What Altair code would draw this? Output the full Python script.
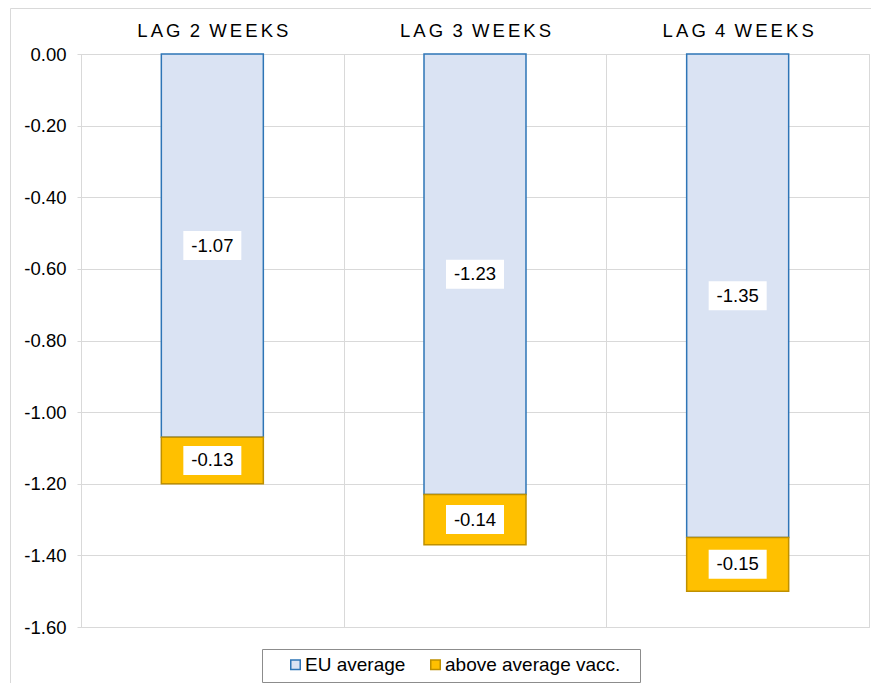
import altair as alt
import pandas as pd

# ---- data ----
lags = ["LAG 2 WEEKS", "LAG 3 WEEKS", "LAG 4 WEEKS"]
series = ["EU average", "above average vacc."]
eu_avg = [-1.07, -1.23, -1.35]
above_avg = [-0.13, -0.14, -0.15]
y_ticks = [0.0, -0.2, -0.4, -0.6, -0.8, -1.0, -1.2, -1.4, -1.6]

fills = ["#dae3f3", "#ffc000"]
strokes = ["#2e75b6", "#bf9000"]

rows = []
for i, lag in enumerate(lags):
    for k, vals in enumerate([eu_avg, above_avg]):
        rows.append({"lag": lag, "series": series[k], "order": k,
                     "value": vals[i], "label": f"{vals[i]:.2f}"})
df = pd.DataFrame(rows)

FONT = "Liberation Sans"
GRID = "#d9d9d9"


def spaced(s):
    # letter-spaced rendering of the category names
    return "\u2002".join("\u2006".join(word) for word in s.split(" "))


label_expr = " : ".join(
    [f"datum.label == '{lag}' ? '{spaced(lag)}'" for lag in lags] + ["datum.label"]
)

x_axis = alt.Axis(orient="top", labelAngle=0, ticks=False, tickSize=0, domain=False,
                  grid=True, tickBand="extent", gridColor=GRID, labelFont=FONT,
                  labelFontSize=18.5, labelColor="#000000", labelPadding=14,
                  labelLimit=0, labelExpr=label_expr)
x_scale = alt.Scale(domain=lags, paddingInner=0, paddingOuter=0)

y_axis = alt.Axis(values=y_ticks, domain=False, grid=True, gridColor=GRID,
                  ticks=True, tickSize=4, tickColor=GRID, labelFont=FONT,
                  labelFontSize=18.5, labelColor="#000000", labelPadding=11,
                  labelExpr="replace(format(datum.value, '.2f'), '\u2212', '-')")
y_scale = alt.Scale(domain=[-1.6, 0], nice=False, zero=False)


def X():
    return alt.X("lag:N", sort=lags, title=None, scale=x_scale, axis=x_axis)


def Y(field):
    return alt.Y(field, title=None, scale=y_scale, axis=y_axis)


legend = alt.Legend(title=None, orient="none", legendX=205, legendY=601,
                    direction="horizontal", symbolType="square", symbolSize=90,
                    symbolStrokeWidth=1.5, labelFont=FONT, labelFontSize=19,
                    labelColor="#000000", columnPadding=20, labelOffset=0,
                    labelLimit=0, padding=0)

base = alt.Chart(df).transform_stack(
    stack="value", groupby=["lag"], as_=["v0", "v1"],
    sort=[alt.SortField("order", order="ascending")]
).transform_calculate(mid="(datum.v0 + datum.v1) / 2")

bars = base.mark_bar(width=102, strokeWidth=1.5).encode(
    x=X(), y=Y("v0:Q"), y2="v1:Q",
    fill=alt.Fill("series:N", sort=series, scale=alt.Scale(domain=series, range=fills), legend=legend),
    stroke=alt.Stroke("series:N", sort=series, scale=alt.Scale(domain=series, range=strokes), legend=legend),
    order=alt.Order("order:Q"),
)

boxes = base.mark_point(shape="M-1,-0.5L1,-0.5L1,0.5L-1,0.5Z", size=3364, filled=True,
                        fill="#ffffff", opacity=1, strokeWidth=0).encode(
    x=X(), y=Y("mid:Q"))

labels = base.mark_text(font=FONT, fontSize=18.5, color="#000000", align="center",
                        baseline="middle").encode(
    x=X(), y=Y("mid:Q"), text="label:N")

one = alt.Data(values=[{"k": 1}])
legend_frame = alt.Chart(one).mark_rect(fillOpacity=0, stroke="#8c8c8c", strokeWidth=1).encode(
    x=alt.value(181.5), x2=alt.value(559.5), y=alt.value(595.5), y2=alt.value(628.5))
left_border = alt.Chart(one).mark_rule(color=GRID, strokeWidth=1).encode(
    x=alt.value(-70.5), y=alt.value(-45.5), y2=alt.value(629))
top_border = alt.Chart(one).mark_rule(color=GRID, strokeWidth=1).encode(
    x=alt.value(-70.5), x2=alt.value(790), y=alt.value(-45.5))

chart = alt.layer(bars, boxes, labels, legend_frame, left_border, top_border).properties(
    width=788, height=573,
    autosize=alt.AutoSizeParams(type="none"),
    padding={"left": 73, "top": 46, "right": 4, "bottom": 56},
    background="#ffffff",
).configure_view(stroke=GRID)

chart.save("out.html", embed_options={"renderer": "svg", "actions": False})
